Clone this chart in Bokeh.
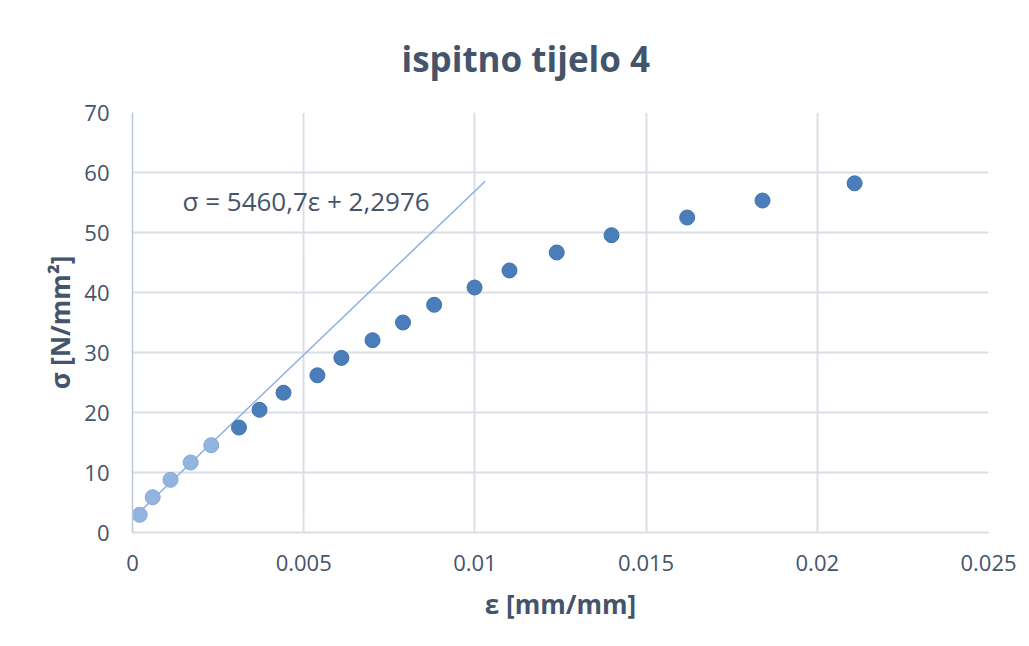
from bokeh.plotting import figure
from bokeh.models import Range1d, FixedTicker, Label
from bokeh.embed import file_html
from bokeh.resources import INLINE

# ---- data ----
eps_light = [0.00021, 0.00059, 0.00111, 0.00170, 0.00230]
sig_light = [2.95, 5.88, 8.78, 11.67, 14.55]
eps_dark = [0.00311, 0.00371, 0.00441, 0.00540, 0.00610, 0.00701, 0.00790,
            0.00881, 0.00999, 0.01101, 0.01239, 0.01399, 0.01620, 0.01840, 0.02109]
sig_dark = [17.5, 20.45, 23.3, 26.2, 29.1, 32.05, 35.0, 37.95, 40.83, 43.67,
            46.67, 49.55, 52.5, 55.33, 58.2]
trend_slope = 5460.7
trend_intercept = 2.2976
trend_x_end = 0.0103
x_ticks = [0, 0.005, 0.01, 0.015, 0.02, 0.025]
x_tick_labels = ["0", "0.005", "0.01", "0.015", "0.02", "0.025"]
y_ticks = [0, 10, 20, 30, 40, 50, 60, 70]
title_text = "ispitno tijelo 4"
x_label = "ε [mm/mm]"
y_label = "σ [N/mm²]"
eq_text = "σ = 5460,7ε + 2,2976"

FONT = "Open Sans"
TXT = "#44546A"
GRID = "#DADEE6"

p = figure(width=1021, height=630,
           x_range=Range1d(0, 0.025), y_range=Range1d(0, 70),
           output_backend="svg", toolbar_location=None,
           min_border_left=132, min_border_right=33,
           min_border_top=112, min_border_bottom=98,
           title=title_text)
p.outline_line_color = None
p.background_fill_color = "white"
p.border_fill_color = "white"

p.title.align = "left"
p.title.offset = 269
p.title.text_font = FONT
p.title.text_font_size = "35px"
p.title.text_font_style = "bold"
p.title.text_color = TXT
p.title.standoff = 62

# axes
p.xaxis.ticker = FixedTicker(ticks=x_ticks)
p.yaxis.ticker = FixedTicker(ticks=y_ticks)
p.xaxis.major_label_overrides = {t: s for t, s in zip(x_ticks, x_tick_labels)}
for ax in (p.xaxis, p.yaxis):
    ax.major_tick_line_color = None
    ax.minor_tick_line_color = None
    ax.major_tick_out = 0
    ax.major_tick_in = 0
    ax.minor_tick_out = 0
    ax.major_label_text_font = FONT
    ax.major_label_text_font_size = "22px"
    ax.major_label_text_color = TXT
    ax.axis_label_text_font = FONT
    ax.axis_label_text_font_size = "26px"
    ax.axis_label_text_font_style = "bold"
    ax.axis_label_text_color = TXT
p.xaxis.axis_label = x_label
p.yaxis.axis_label = y_label
p.xaxis.axis_line_color = GRID
p.xaxis.axis_line_width = 2
p.yaxis.axis_line_color = "#BCC7D8"
p.yaxis.axis_line_width = 1.5
p.xaxis.major_label_standoff = 22
p.yaxis.major_label_standoff = 23
p.xaxis.axis_label_standoff = 12
p.yaxis.axis_label_standoff = 3

p.xgrid.ticker = FixedTicker(ticks=x_ticks)
p.ygrid.ticker = FixedTicker(ticks=y_ticks)
for g in (p.xgrid, p.ygrid):
    g.grid_line_color = GRID
    g.grid_line_width = 2

# trendline (linear fit of the first series, with forward forecast)
tx = [eps_light[0], trend_x_end]
ty = [trend_slope * x + trend_intercept for x in tx]
p.line(tx, ty, line_color="#8FB0DC", line_width=1.5)

p.scatter(eps_light, sig_light, size=15, fill_color="#93B4DF",
          line_color="#86A8D6", line_width=1)
p.scatter(eps_dark, sig_dark, size=15, fill_color="#4A7EBB",
          line_color="#3F72B0", line_width=1)

p.add_layout(Label(x=0.00146, y=55.2, text=eq_text, text_font=FONT,
                   text_font_size="26px", text_color=TXT,
                   text_baseline="middle", text_align="left"))

open("out.html", "w").write(file_html(p, INLINE))
